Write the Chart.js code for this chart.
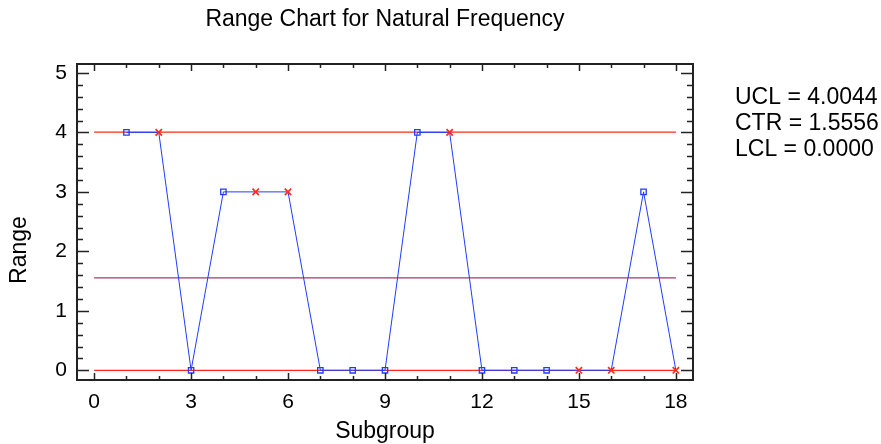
<!DOCTYPE html>
<html>
<head>
<meta charset="utf-8">
<title>Range Chart for Natural Frequency</title>
<script src="https://cdn.jsdelivr.net/npm/chart.js@4.4.0/dist/chart.umd.min.js"></script>
<style>
    html, body { margin: 0; padding: 0; background: #ffffff; }
    #contenedor { width: 881px; height: 444px; }
</style>
</head>
<body>
<div id="contenedor"><canvas id="graficoRango" width="881" height="444"></canvas></div>
<script>
// Datos del gráfico
const subgroups = [1, 2, 3, 4, 5, 6, 7, 8, 9, 10, 11, 12, 13, 14, 15, 16, 17, 18];
const ranges = [4, 4, 0, 3, 3, 3, 0, 0, 0, 4, 4, 0, 0, 0, 0, 0, 3, 0];
// puntos marcados con asterisco rojo
const flagged = [false, true, false, false, true, true, false, false, false, false, true, false, false, false, true, true, false, true];
const xTicks = [0, 3, 6, 9, 12, 15, 18];
const yTicks = [0, 1, 2, 3, 4, 5];
const limitNames = ['UCL', 'CTR', 'LCL'];
const limitValues = [4.0044, 1.5556, 0.0];
const limitSpan = [0, 18];
const chartTitle = 'Range Chart for Natural Frequency';
const yTitle = 'Range';

const FONT = "Arial, 'Liberation Sans', sans-serif";
const BLUE = '#1f3cff';
const RED = '#ff2a1a';
const CTR_COLOR = '#a8356f';

function limitLine(value, color) {
    return {
        data: limitSpan.map(x => ({ x: x, y: value })),
        borderColor: color,
        borderWidth: 1.3,
        pointRadius: 0,
        fill: false,
        tension: 0
    };
}

// Marco con marcas de graduación hacia dentro, título y texto de límites
const marcoPlugin = {
    id: 'marco',
    afterDraw(chart) {
        const ctx = chart.ctx;
        const a = chart.chartArea;
        const xs = chart.scales.x;
        const ys = chart.scales.y;
        ctx.save();
        ctx.strokeStyle = '#222222';
        ctx.lineWidth = 1.5;
        // marcas eje x (arriba y abajo)
        for (let v = 0; v <= 18; v++) {
            const px = Math.round(xs.getPixelForValue(v)) + 0.5;
            const len = v % 3 === 0 ? 7 : 4;
            ctx.beginPath();
            ctx.moveTo(px, a.bottom); ctx.lineTo(px, a.bottom - len);
            ctx.moveTo(px, a.top); ctx.lineTo(px, a.top + len);
            ctx.stroke();
        }
        // marcas eje y (izquierda y derecha)
        for (let i = 0; i <= 25; i++) {
            const v = i / 5;
            const py = Math.round(ys.getPixelForValue(v)) + 0.5;
            const len = i % 5 === 0 ? 12 : 6;
            ctx.beginPath();
            ctx.moveTo(a.left, py); ctx.lineTo(a.left + len, py);
            ctx.moveTo(a.right, py); ctx.lineTo(a.right - len, py);
            ctx.stroke();
        }
        ctx.lineWidth = 2;
        ctx.strokeRect(a.left, a.top, a.right - a.left, a.bottom - a.top);

        ctx.fillStyle = '#000000';
        ctx.textBaseline = 'middle';

        // título centrado sobre el área del gráfico
        ctx.font = '23px ' + FONT;
        ctx.textAlign = 'center';
        ctx.fillText(chartTitle, (a.left + a.right) / 2, 20);

        // título del eje y
        ctx.save();
        ctx.translate(20, 250);
        ctx.rotate(-Math.PI / 2);
        ctx.fillText(yTitle, 0, 0);
        ctx.restore();

        // texto de límites a la derecha
        ctx.font = '23px ' + FONT;
        ctx.textAlign = 'left';
        limitNames.forEach((name, i) => {
            ctx.fillText(name + ' = ' + limitValues[i].toFixed(4), 735, 98 + i * 26);
        });
        ctx.restore();
    }
};

const ctx = document.getElementById('graficoRango');

new Chart(ctx, {
    type: 'line',
    data: {
        datasets: [
            {
                data: subgroups.map((s, i) => ({ x: s, y: ranges[i] })),
                borderColor: BLUE,
                borderWidth: 1,
                tension: 0,
                fill: false,
                pointStyle: flagged.map(f => f ? 'crossRot' : 'rect'),
                pointRadius: flagged.map(f => f ? 4.5 : 3.8),
                pointBorderColor: flagged.map(f => f ? RED : BLUE),
                pointBackgroundColor: 'rgba(0,0,0,0)',
                pointBorderWidth: flagged.map(f => f ? 1.7 : 1.3)
            },
            limitLine(limitValues[0], RED),
            limitLine(limitValues[1], CTR_COLOR),
            limitLine(limitValues[2], RED)
        ]
    },
    options: {
        responsive: false,
        animation: false,
        devicePixelRatio: 1,
        layout: { padding: { left: 0, right: 188, top: 64, bottom: 0 } },
        plugins: {
            legend: { display: false },
            tooltip: { enabled: false },
            title: { display: false }
        },
        scales: {
            x: {
                type: 'linear',
                min: -0.53,
                max: 18.53,
                afterBuildTicks: scale => { scale.ticks = xTicks.map(v => ({ value: v })); },
                afterFit: scale => { scale.height = 64; },
                grid: { display: false, drawTicks: false },
                border: { display: false },
                ticks: {
                    color: '#000000',
                    font: { family: FONT, size: 21 },
                    padding: 10,
                    maxRotation: 0
                },
                title: {
                    display: true,
                    text: 'Subgroup',
                    color: '#000000',
                    font: { family: FONT, size: 23 },
                    padding: { top: 0, bottom: -1 }
                }
            },
            y: {
                min: -0.163,
                max: 5.15,
                afterBuildTicks: scale => { scale.ticks = yTicks.map(v => ({ value: v })); },
                afterFit: scale => { scale.width = 77; },
                grid: { display: false, drawTicks: false },
                border: { display: false },
                ticks: {
                    color: '#000000',
                    font: { family: FONT, size: 21 },
                    padding: 10
                },
                title: { display: false }
            }
        }
    },
    plugins: [marcoPlugin]
});
</script>
</body>
</html>
